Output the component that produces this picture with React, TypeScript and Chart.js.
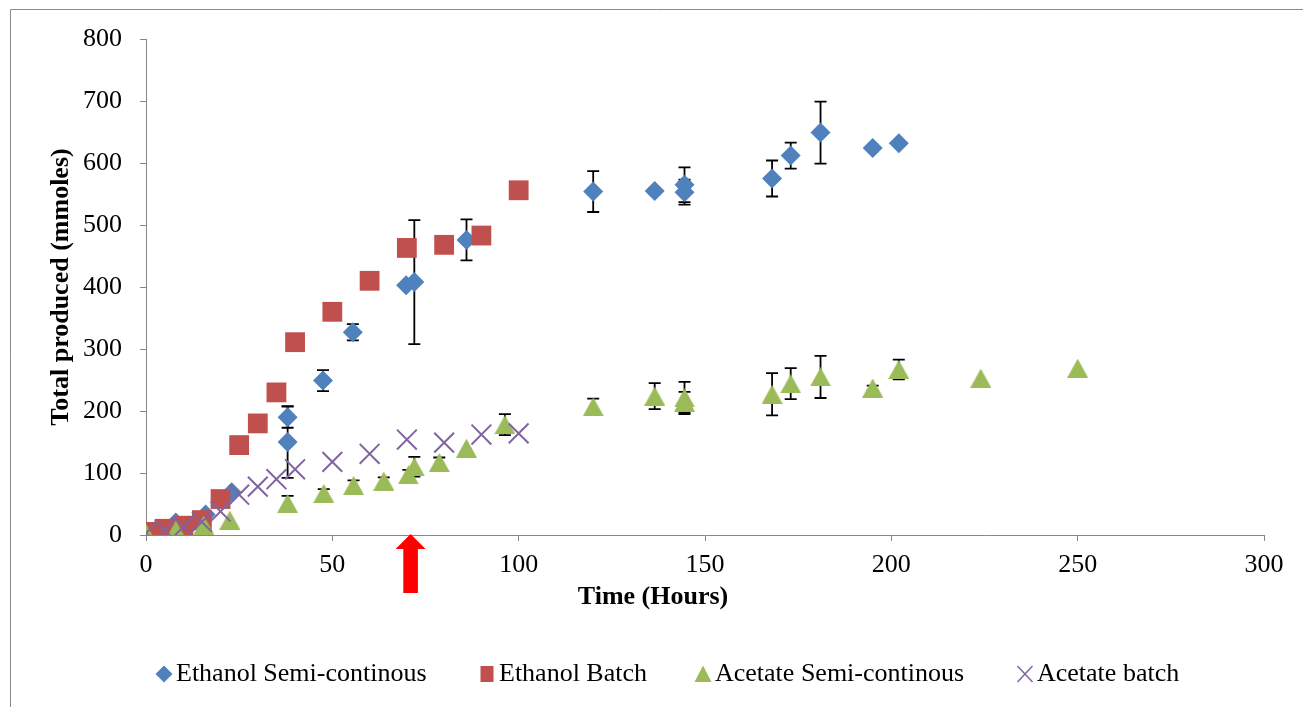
import React, { useEffect, useRef } from "react";
import { Chart, registerables } from "chart.js";

Chart.register(...registerables);

// ---- Data ----
const ethSemiX = [0, 8, 16, 23, 38, 38, 47.5, 55.5, 69.8, 72, 86, 120, 136.5, 144.5, 144.5, 168, 173, 181, 195, 202];
const ethSemiY = [0, 20, 33, 69, 190, 150, 249, 327, 403, 408, 476, 554, 555, 565, 553, 575, 612, 649, 624, 632];
const ethSemiErr = [0, 0, 0, 0, 17, 58, 17, 13, 0, 100, 33, 33, 5, 28, 20, 29, 21, 50, 0, 0];

const ethBatchX = [0, 5, 10, 15, 20, 25, 30, 35, 40, 50, 60, 70, 80, 90, 100];
const ethBatchY = [5, 10, 15, 24, 58, 145, 180, 230, 311, 360, 410, 463, 468, 483, 556];

const aceSemiX = [0, 8, 15.5, 22.5, 38, 47.7, 55.7, 63.8, 70.4, 72, 78.7, 86, 96.3, 120, 136.5, 144.5, 144.5, 168, 173, 181, 195, 202, 224, 250];
const aceSemiY = [3, 8, 16, 24, 51, 67, 80, 87, 97, 110, 117, 140, 178, 207, 224, 221, 214, 227, 244, 255, 237, 267, 253, 269];
const aceSemiErr = [0, 0, 0, 0, 12, 7, 8, 6, 8, 16, 8, 0, 17, 13, 21, 26, 17, 34, 25, 34, 4, 16, 0, 0];

const aceBatchX = [0, 5, 10, 15, 20, 25, 30, 35, 40, 50, 60, 70, 80, 90, 100];
const aceBatchY = [3, 8, 13, 21, 38, 65, 78, 90, 106, 118, 131, 154, 149, 162, 164];

const seriesNames = ["Ethanol Semi-continous", "Ethanol Batch", "Acetate Semi-continous", "Acetate batch"];
const xTitle = "Time (Hours)";
const yTitle = "Total produced (mmoles)";
const arrowAt = 71;

const BLUE = "#4F81BD";
const RED = "#C0504D";
const GREEN = "#9BBB59";
const PURPLE = "#8064A2";
const AXIS = "#868686";
const FONT = "'Liberation Serif', 'Times New Roman', serif";

function pts(xs: number[], ys: number[]) {
  return xs.map((x, i) => ({ x, y: ys[i] }));
}

function makeTriangle(w: number, h: number, color: string) {
  const c = document.createElement("canvas");
  c.width = w;
  c.height = h;
  const ctx = c.getContext("2d")!;
  ctx.fillStyle = color;
  ctx.beginPath();
  ctx.moveTo(w / 2, 0);
  ctx.lineTo(w, h);
  ctx.lineTo(0, h);
  ctx.closePath();
  ctx.fill();
  return c;
}

const framePlugin = {
  id: "frame",
  beforeDraw(chart: any) {
    const { ctx, width, height } = chart;
    ctx.save();
    ctx.fillStyle = "#ffffff";
    ctx.fillRect(0, 0, width, height);
    ctx.strokeStyle = "#8a8a8a";
    ctx.lineWidth = 1;
    ctx.beginPath();
    ctx.moveTo(10.5, height);
    ctx.lineTo(10.5, 9.5);
    ctx.lineTo(width, 9.5);
    ctx.stroke();
    ctx.restore();
  },
};

const errorBarPlugin = {
  id: "errorBars",
  beforeDatasetsDraw(chart: any) {
    const { ctx } = chart;
    const xs = chart.scales.x;
    const ys = chart.scales.y;
    ctx.save();
    ctx.strokeStyle = "#000000";
    ctx.lineWidth = 1.8;
    chart.data.datasets.forEach((ds: any) => {
      const errs: number[] | undefined = ds.errorBars;
      if (!errs) return;
      ds.data.forEach((p: any, i: number) => {
        const e = errs[i];
        if (!e) return;
        const px = xs.getPixelForValue(p.x);
        const y1 = ys.getPixelForValue(p.y + e);
        const y2 = ys.getPixelForValue(p.y - e);
        ctx.beginPath();
        ctx.moveTo(px, y1);
        ctx.lineTo(px, y2);
        ctx.moveTo(px - 6, y1);
        ctx.lineTo(px + 6, y1);
        ctx.moveTo(px - 6, y2);
        ctx.lineTo(px + 6, y2);
        ctx.stroke();
      });
    });
    ctx.restore();
  },
};

const decorPlugin = {
  id: "decor",
  afterDraw(chart: any) {
    const { ctx, chartArea } = chart;
    const xs = chart.scales.x;
    ctx.save();
    // red arrow
    const cx = xs.getPixelForValue(arrowAt);
    const tip = chartArea.bottom - 1;
    ctx.fillStyle = "#FF0000";
    ctx.beginPath();
    ctx.moveTo(cx, tip);
    ctx.lineTo(cx + 15, tip + 15);
    ctx.lineTo(cx + 7.3, tip + 15);
    ctx.lineTo(cx + 7.3, tip + 59);
    ctx.lineTo(cx - 7.3, tip + 59);
    ctx.lineTo(cx - 7.3, tip + 15);
    ctx.lineTo(cx - 15, tip + 15);
    ctx.closePath();
    ctx.fill();

    // x axis title
    ctx.fillStyle = "#000000";
    ctx.font = `bold 26px ${FONT}`;
    ctx.textAlign = "center";
    ctx.textBaseline = "middle";
    const tx = chartArea.left + (chartArea.right - chartArea.left) * 0.4535;
    ctx.fillText(xTitle, tx, chartArea.bottom + 62);

    // legend
    const ly = 674;
    const textStarts = [176, 499, 715, 1037];
    ctx.font = `26px ${FONT}`;
    ctx.textAlign = "left";
    ctx.textBaseline = "middle";
    seriesNames.forEach((name, i) => {
      const ts = textStarts[i];
      const mx = ts - 12;
      if (i === 0) {
        ctx.fillStyle = BLUE;
        ctx.beginPath();
        ctx.moveTo(mx - 8.5, ly);
        ctx.lineTo(mx, ly - 8.5);
        ctx.lineTo(mx + 8.5, ly);
        ctx.lineTo(mx, ly + 8.5);
        ctx.closePath();
        ctx.fill();
      } else if (i === 1) {
        ctx.fillStyle = RED;
        ctx.fillRect(mx - 6.5, ly - 8, 13, 16);
      } else if (i === 2) {
        ctx.fillStyle = GREEN;
        ctx.beginPath();
        ctx.moveTo(mx, ly - 8.5);
        ctx.lineTo(mx + 8.5, ly + 8);
        ctx.lineTo(mx - 8.5, ly + 8);
        ctx.closePath();
        ctx.fill();
      } else {
        ctx.strokeStyle = PURPLE;
        ctx.lineWidth = 1.5;
        ctx.beginPath();
        ctx.moveTo(mx - 7.5, ly - 8);
        ctx.lineTo(mx + 7.5, ly + 8);
        ctx.moveTo(mx + 7.5, ly - 8);
        ctx.lineTo(mx - 7.5, ly + 8);
        ctx.stroke();
      }
      ctx.fillStyle = "#000000";
      ctx.fillText(name, ts, ly);
    });
    ctx.restore();
  },
};

export default function App() {
  const ref = useRef<HTMLCanvasElement | null>(null);

  useEffect(() => {
    document.body.style.margin = "0";
    const canvas = ref.current!;
    const tri = makeTriangle(21, 19, GREEN);
    const chart = new Chart(canvas, {
      type: "scatter",
      data: {
        datasets: [
          {
            label: seriesNames[0],
            data: pts(ethSemiX, ethSemiY),
            errorBars: ethSemiErr,
            pointStyle: "rectRot",
            pointRadius: 10,
            backgroundColor: BLUE,
            borderColor: BLUE,
            borderWidth: 0,
            order: 4,
          } as any,
          {
            label: seriesNames[1],
            data: pts(ethBatchX, ethBatchY),
            pointStyle: "rect",
            pointRadius: 14,
            backgroundColor: RED,
            borderColor: RED,
            borderWidth: 0,
            order: 3,
          },
          {
            label: seriesNames[2],
            data: pts(aceSemiX, aceSemiY),
            errorBars: aceSemiErr,
            pointStyle: tri,
            pointRadius: 10,
            backgroundColor: GREEN,
            borderColor: GREEN,
            borderWidth: 0,
            order: 2,
          } as any,
          {
            label: seriesNames[3],
            data: pts(aceBatchX, aceBatchY),
            pointStyle: "crossRot",
            pointRadius: 14,
            backgroundColor: PURPLE,
            borderColor: PURPLE,
            borderWidth: 2,
            order: 1,
          },
        ],
      },
      options: {
        responsive: false,
        animation: false,
        events: [],
        layout: { padding: { left: 0, right: 39, top: 39, bottom: 0 } },
        plugins: {
          legend: { display: false },
          tooltip: { enabled: false },
          title: { display: false },
        },
        scales: {
          x: {
            type: "linear",
            min: 0,
            max: 300,
            afterFit: (s: any) => {
              s.height = 172;
            },
            ticks: {
              stepSize: 50,
              color: "#000000",
              font: { family: FONT, size: 26 },
              padding: 9,
              maxRotation: 0,
            },
            grid: {
              drawOnChartArea: false,
              drawTicks: true,
              tickLength: 6,
              color: AXIS,
            },
            border: { display: true, color: AXIS, width: 1 },
          },
          y: {
            type: "linear",
            min: 0,
            max: 800,
            afterFit: (s: any) => {
              s.width = 146;
            },
            ticks: {
              stepSize: 100,
              color: "#000000",
              font: { family: FONT, size: 26 },
              padding: 18,
            },
            grid: {
              drawOnChartArea: false,
              drawTicks: true,
              tickLength: 6,
              color: AXIS,
            },
            border: { display: true, color: AXIS, width: 1 },
            title: {
              display: true,
              text: yTitle,
              color: "#000000",
              font: { family: FONT, size: 26, weight: "bold" },
              padding: { top: 46, bottom: 0 },
            },
          },
        },
      } as any,
      plugins: [framePlugin, errorBarPlugin, decorPlugin],
    });
    return () => chart.destroy();
  }, []);

  return (
    <div style={{ position: "absolute", left: 0, top: 0, width: 1303, height: 707 }}>
      <canvas ref={ref} width={1303} height={707} style={{ display: "block", width: 1303, height: 707 }} />
    </div>
  );
}
